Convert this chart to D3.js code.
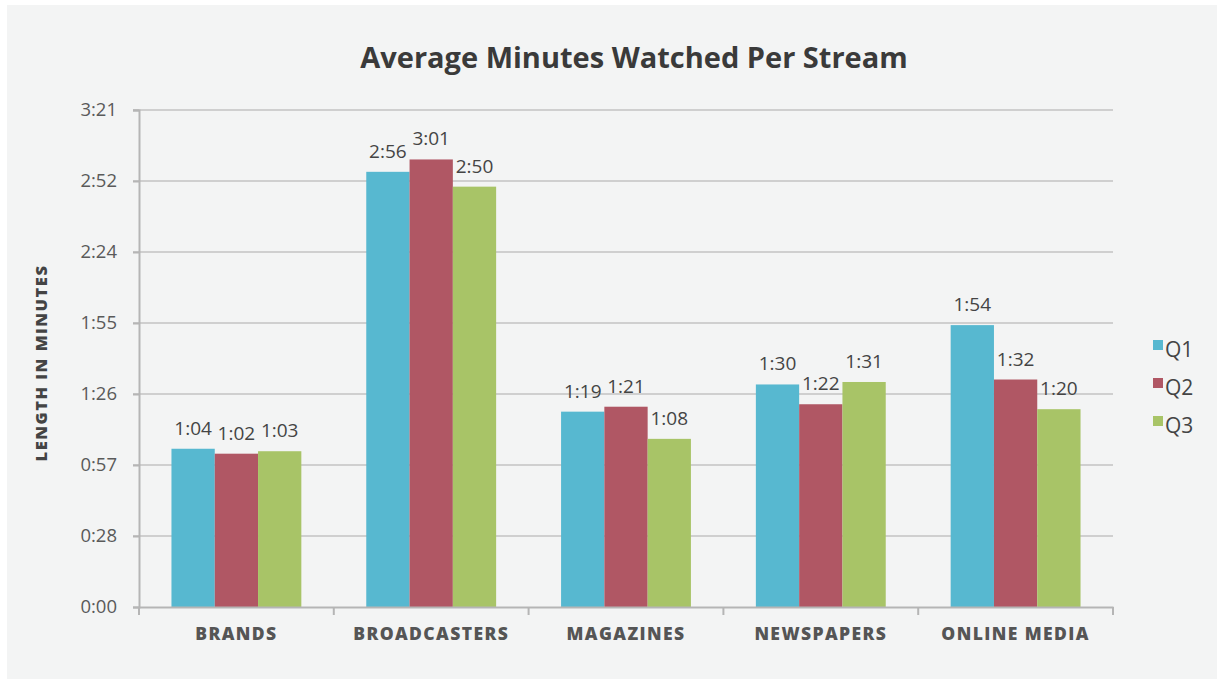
<!DOCTYPE html>
<html><head><meta charset="utf-8">
<script src="https://cdn.jsdelivr.net/npm/d3@7"></script>
<style>
html,body{margin:0;padding:0;background:#fff;}
svg{display:block;font-family:"Open Sans","Lato",sans-serif;}
</style></head>
<body>
<svg id="chart" width="1218" height="679"></svg>
<script>
const categories = ["BRANDS","BROADCASTERS","MAGAZINES","NEWSPAPERS","ONLINE MEDIA"];
const seriesNames = ["Q1","Q2","Q3"];
const q1 = [64,176,79,90,114];   // seconds
const q2 = [62,181,81,82,92];
const q3 = [63,170,68,91,80];
const tickLabels = ["0:00","0:28","0:57","1:26","1:55","2:24","2:52","3:21"];
const yMax = 201;
const colors = ["#57b8d0","#b05764","#a8c467"];
const seriesValues = [q1,q2,q3];

const svg = d3.select("#chart");
svg.append("rect").attr("x",7).attr("y",5).attr("width",1210).attr("height",674).attr("fill","#f3f4f4");

const m = {left:139, right:1113, top:110, bottom:607};
const x0 = d3.scaleBand().domain(categories).range([m.left,m.right]).paddingInner(0).paddingOuter(0);
const barW = x0.bandwidth()/4.5;
const x1 = d3.scaleBand().domain(seriesNames).range([0,barW*3]);
const y = d3.scaleLinear().domain([0,yMax]).range([m.bottom,m.top]);
const tickVals = tickLabels.map((t,i)=> i*yMax/(tickLabels.length-1));

// gridlines
svg.append("g").selectAll("line").data(tickVals.slice(1)).join("line")
  .attr("x1",m.left-6).attr("x2",m.right).attr("y1",d=>y(d)).attr("y2",d=>y(d))
  .attr("stroke","#cfcfcf").attr("stroke-width",2);

// y axis
const yAxis = d3.axisLeft(y).tickValues(tickVals).tickFormat((d,i)=>tickLabels[i]).tickSize(6).tickPadding(16);
const gy = svg.append("g").attr("transform",`translate(${m.left},0)`).call(yAxis);
gy.select(".domain").attr("stroke","#b5b5b5").attr("stroke-width",2);
gy.selectAll(".tick line").attr("stroke","#b5b5b5").attr("stroke-width",2);
gy.selectAll(".tick text").attr("font-size",18.5).attr("fill","#5a5a5a").attr("font-family","Open Sans");

// bars
const groups = svg.append("g").selectAll("g").data(categories).join("g")
  .attr("transform",c=>`translate(${x0(c)+(x0.bandwidth()-barW*3)/2},0)`);
groups.selectAll("rect").data((c,ci)=>seriesNames.map((s,si)=>({s,si,v:seriesValues[si][ci]}))).join("rect")
  .attr("x",d=>x1(d.s)).attr("width",x1.bandwidth())
  .attr("y",d=>y(d.v)).attr("height",d=>m.bottom-y(d.v))
  .attr("fill",d=>colors[d.si]);
const fmt = v => Math.floor(v/60)+":"+String(v%60).padStart(2,"0");
groups.selectAll("text").data((c,ci)=>seriesNames.map((s,si)=>({s,si,v:seriesValues[si][ci]}))).join("text")
  .attr("x",d=>x1(d.s)+x1.bandwidth()/2).attr("y",d=>y(d.v)-14)
  .attr("text-anchor","middle").attr("font-size",19).attr("fill","#444")
  .text(d=>fmt(d.v));

// x axis
const xAxis = d3.axisBottom(x0).tickSize(0).tickPadding(21);
const gx = svg.append("g").attr("transform",`translate(0,${m.bottom})`).call(xAxis);
gx.select(".domain").attr("stroke","#b5b5b5").attr("stroke-width",2);
gx.selectAll(".tick text").attr("font-family","Open Sans").attr("font-size",17.5).attr("font-weight",800).attr("fill","#555").attr("letter-spacing",1.4);
svg.append("g").selectAll("line").data(categories.map(c=>x0(c)).concat([m.right])).join("line")
  .attr("x1",d=>d).attr("x2",d=>d).attr("y1",m.bottom).attr("y2",m.bottom+8)
  .attr("stroke","#b5b5b5").attr("stroke-width",2);

// title
svg.append("text").attr("x",634).attr("y",68).attr("text-anchor","middle")
  .attr("font-size",29).attr("font-weight",700).attr("fill","#3a3a3a")
  .text("Average Minutes Watched Per Stream");

// y title
svg.append("text").attr("transform","translate(47,363) rotate(-90)").attr("text-anchor","middle")
  .attr("font-size",16.5).attr("font-weight",800).attr("fill","#444").attr("letter-spacing",1.5)
  .text("LENGTH IN MINUTES");

// legend
const lg = svg.append("g").selectAll("g").data(seriesNames).join("g")
  .attr("transform",(d,i)=>`translate(1153,${349+i*38})`);
lg.append("rect").attr("x",0).attr("y",-9).attr("width",10).attr("height",10).attr("fill",(d,i)=>colors[i]);
lg.append("text").attr("x",12).attr("y",8).attr("font-size",21).attr("fill","#444").text(d=>d);
</script>
</body></html>
